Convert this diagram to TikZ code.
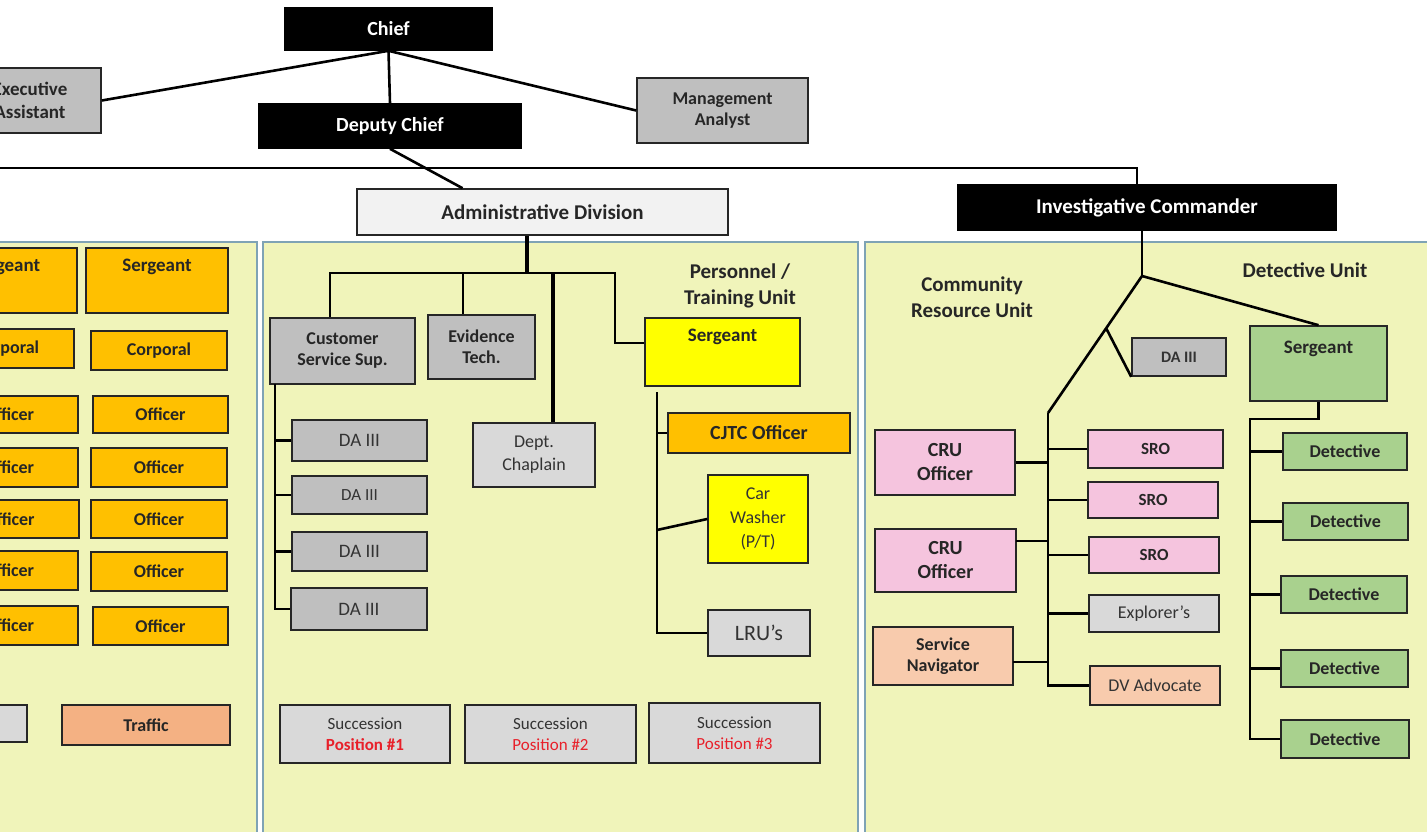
\documentclass[tikz,border=0pt]{standalone}
\usepackage{fontspec}
\setmainfont{Carlito}
\definecolor{panelfill}{HTML}{F0F4BA}
\definecolor{panelline}{HTML}{7FA3B5}
\definecolor{orng}{HTML}{FFC000}
\definecolor{gry}{HTML}{BFBFBF}
\definecolor{lgry}{HTML}{D9D9D9}
\definecolor{xlgry}{HTML}{F2F2F2}
\definecolor{pnk}{HTML}{F5C4DE}
\definecolor{peach}{HTML}{F8CBAD}
\definecolor{salmon}{HTML}{F4B183}
\definecolor{grn}{HTML}{A9D18E}
\definecolor{ylw}{HTML}{FFFF00}
\definecolor{redtxt}{HTML}{E8202A}
\definecolor{ink}{HTML}{262626}
\newcommand{\mkbox}[8][]{\node[#2,minimum width={(#5-#3)*1pt},minimum height={(#6-#4)*1pt},#1] (#7) at ({(#3+#5)/2},{(#4+#6)/2}) {#8};}
\tikzset{
  box/.style={draw=ink, line width=1.6pt, inner sep=0pt, align=center, text=ink,
    font=\bfseries\fontsize{18}{21}\selectfont},
  blk/.style={box, draw=black, fill=black, text=white, font=\bfseries\fontsize{20}{22}\selectfont},
  gbox/.style={box, fill=gry},
  lbox/.style={box, fill=lgry, font=\fontsize{19}{22}\selectfont, text=black!80},
  dabox/.style={box, fill=gry, font=\fontsize{19}{22}\selectfont, text=black!80},
  obox/.style={box, fill=orng},
  pbox/.style={box, fill=pnk},
  pchbox/.style={box, fill=peach},
  gnbox/.style={box, fill=grn},
  ybox/.style={box, fill=ylw},
  panel/.style={draw=panelline, line width=1.5pt, fill=panelfill},
  conn/.style={line width=2.6pt, black},
  thk/.style={line width=4.2pt, black},
  hdr/.style={font=\bfseries\fontsize{21}{26}\selectfont, text=ink, align=center, inner sep=0pt},
  toplab/.style={anchor=north, yshift=-12pt, inner sep=0pt, text=ink, font=\bfseries\fontsize{19}{21}\selectfont}
}
\begin{document}
\begin{tikzpicture}[x=1pt,y=-1pt]
\useasboundingbox (0,0) rectangle (1427,832);
\clip (0,0) rectangle (1427,832);
\fill[white] (0,0) rectangle (1427,832);

% panels
\draw[panel] (-10,242) rectangle (257,845);
\draw[panel] (263,242) rectangle (858,845);
\draw[panel] (865,242) rectangle (1440,845);

% top level
\mkbox{blk}{285}{8}{492}{50}{chief}{Chief}
\mkbox[font=\bfseries\fontsize{19}{23}\selectfont]{gbox}{-40}{68}{101}{133}{exec}{}
\node[font=\bfseries\fontsize{19}{23}\selectfont, text=ink, align=center] (exect) at (30,100) {Executive\\Assistant};
\mkbox{gbox}{637}{78}{808}{143}{mgmt}{Management\\Analyst}
\mkbox{blk}{259}{104}{521}{148}{deputy}{Deputy Chief}
\mkbox[fill=xlgry, font=\bfseries\fontsize{21}{24}\selectfont]{box}{357}{189}{728}{235}{admin}{Administrative Division}
\mkbox[font=\bfseries\fontsize{21}{24}\selectfont]{blk}{958}{185}{1336}{230}{inv}{Investigative Commander}

\draw[conn] (chief.south) -- (exec.east);
\draw[conn] (chief.south) -- (deputy.north);
\draw[conn] (chief.south) -- (mgmt.west);
\coordinate (hl) at (-5,168);
\draw[conn] (hl) -| ([xshift=-10pt]inv.north);
\draw[conn] (deputy.south) -- ([xshift=-80pt]admin.north);

% left panel
\mkbox[label={[toplab]north:Sergeant}]{obox}{-66}{248}{77}{313}{ls1}{}
\mkbox[label={[toplab]north:Sergeant}]{obox}{86}{248}{228}{313}{ls2}{}
\mkbox{obox}{-60}{329}{74}{368}{lc1}{Corporal}
\mkbox{obox}{91}{331}{227}{370}{lc2}{Corporal}
\mkbox{obox}{-60}{396}{78}{433}{lo1}{Officer}
\mkbox{obox}{93}{396}{228}{433}{ro1}{Officer}
\mkbox{obox}{-60}{448}{78}{487}{lo2}{Officer}
\mkbox{obox}{91}{448}{227}{487}{ro2}{Officer}
\mkbox{obox}{-60}{500}{79}{538}{lo3}{Officer}
\mkbox{obox}{91}{500}{227}{538}{ro3}{Officer}
\mkbox{obox}{-60}{551}{78}{590}{lo4}{Officer}
\mkbox{obox}{91}{552}{227}{591}{ro4}{Officer}
\mkbox{obox}{-60}{606}{78}{645}{lo5}{Officer}
\mkbox{obox}{93}{607}{228}{645}{ro5}{Officer}
\mkbox[fill=lgry]{box}{-60}{705}{27}{742}{lg}{}
\mkbox[fill=salmon]{box}{62}{705}{230}{745}{traffic}{Traffic}

% middle panel
\mkbox{gbox}{270}{318}{415}{384}{css}{Customer\\Service Sup.}
\mkbox{gbox}{428}{315}{535}{379}{evid}{Evidence\\Tech.}
\mkbox[font=\fontsize{18}{23}\selectfont]{lbox}{473}{423}{595}{487}{chap}{Dept.\\Chaplain}
\mkbox{dabox}{292}{420}{427}{461}{da1}{DA III}
\mkbox[font=\fontsize{17}{20}\selectfont]{dabox}{292}{476}{427}{514}{da2}{DA III}
\mkbox{dabox}{292}{532}{427}{571}{da3}{DA III}
\mkbox{dabox}{291}{588}{427}{630}{da4}{DA III}
\node[hdr] (ptu) at (740,286) {Personnel /\\Training Unit};
\mkbox[label={[toplab]north:Sergeant}]{ybox}{645}{318}{800}{386}{psg}{}
\mkbox[font=\bfseries\fontsize{20}{22}\selectfont]{obox}{668}{413}{850}{453}{cjtc}{CJTC Officer}
\mkbox[font=\fontsize{18}{24}\selectfont, text=black!80]{ybox}{708}{475}{808}{563}{cw}{Car\\Washer\\(P/T)}
\mkbox[font=\fontsize{22}{24}\selectfont]{lbox}{708}{610}{810}{656}{lru}{LRU’s}
\mkbox[font=\fontsize{17}{21}\selectfont]{lbox}{280}{705}{450}{763}{suc1}{Succession\\\textcolor{redtxt}{\bfseries Position \#1}}
\mkbox[font=\fontsize{17}{21}\selectfont]{lbox}{465}{705}{636}{763}{suc2}{Succession\\\textcolor{redtxt}{Position \#2}}
\mkbox[font=\fontsize{17}{21}\selectfont]{lbox}{649}{703}{820}{763}{suc3}{Succession\\\textcolor{redtxt}{Position \#3}}

\coordinate (mj) at (527,273);
\coordinate (bl) at (330,273);
\coordinate (ev) at (463,273);
\coordinate (ch) at (553,273);
\coordinate (pr) at (615,273);
\coordinate (pk) at (615,343);
\draw[thk] (mj |- admin.south) -- (mj);
\draw[conn] (bl |- css.north) -- (bl) -- (pr) -- (pk) -- (pk -| psg.west);
\draw[conn] (ev) -- (ev |- evid.north);
\draw[thk] (ch) -- (ch |- chap.north);
\coordinate (ct1) at (275,384);
\draw[conn] (ct1) -- (ct1 |- da4.west) -- (da4.west);
\draw[conn] (ct1 |- da1.west) -- (da1.west);
\draw[conn] (ct1 |- da2.west) -- (da2.west);
\draw[conn] (ct1 |- da3.west) -- (da3.west);
\coordinate (pt) at (657,392);
\draw[conn] (pt) -- (pt |- lru.west) -- (lru.west);
\draw[conn] (pt |- cjtc.west) -- (cjtc.west);
\coordinate (cwb) at (657,530);
\draw[conn] (cwb) -- (cw.west);

% right panel
\node[hdr] (cru) at (972,297) {Community\\Resource Unit};
\node[hdr] (detu) at (1305,270) {Detective Unit};
\mkbox[font=\bfseries\fontsize{16}{20}\selectfont]{dabox}{1132}{338}{1226}{376}{da5}{DA III}
\mkbox[font=\bfseries\fontsize{20}{24}\selectfont]{pbox}{875}{430}{1015}{495}{cru1}{CRU\\Officer}
\mkbox[font=\bfseries\fontsize{20}{24}\selectfont]{pbox}{875}{529}{1016}{592}{cru2}{CRU\\Officer}
\mkbox{pchbox}{873}{627}{1013}{685}{sn}{Service\\Navigator}
\mkbox[font=\bfseries\fontsize{17}{20}\selectfont]{pbox}{1088}{430}{1223}{468}{sro1}{SRO}
\mkbox[font=\bfseries\fontsize{17}{20}\selectfont]{pbox}{1088}{482}{1218}{518}{sro2}{SRO}
\mkbox[font=\bfseries\fontsize{17}{20}\selectfont]{pbox}{1089}{537}{1219}{573}{sro3}{SRO}
\mkbox[font=\fontsize{18}{20}\selectfont]{lbox}{1089}{595}{1219}{632}{expl}{Explorer’s}
\mkbox[fill=peach, font=\fontsize{18}{20}\selectfont, text=black!80]{box}{1090}{666}{1220}{705}{dv}{DV Advocate}
\mkbox[label={[toplab, yshift=-4pt]north:Sergeant}]{gnbox}{1250}{326}{1387}{401}{dsg}{}
\mkbox{gnbox}{1283}{433}{1407}{470}{det1}{Detective}
\mkbox{gnbox}{1283}{503}{1408}{540}{det2}{Detective}
\mkbox{gnbox}{1281}{576}{1407}{613}{det3}{Detective}
\mkbox{gnbox}{1281}{650}{1408}{687}{det4}{Detective}
\mkbox{gnbox}{1281}{720}{1409}{758}{det5}{Detective}

\coordinate (ij) at (1142,276);
\coordinate (ct) at (1048,413);
\coordinate (cb) at (1106,328);
\coordinate (c2) at (1016,541);
\coordinate (c3) at (1013,662);
\draw[conn] (ij |- inv.south) -- (ij);
\draw[conn] (ij) -- (dsg.north);
\draw[conn] (ij) -- (ct);
\draw[conn] (cb) -- (da5.south west);
\draw[conn] (ct) -- (ct |- dv.west) -- (dv.west);
\draw[conn] (cru1.east) -- (cru1.east -| ct);
\draw[conn] (c2) -- (c2 -| ct);
\draw[conn] (c3) -- (c3 -| ct);
\draw[conn] (ct |- sro1.west) -- (sro1.west);
\draw[conn] (ct |- sro2.west) -- (sro2.west);
\draw[conn] (ct |- sro3.west) -- (sro3.west);
\draw[conn] (ct |- expl.west) -- (expl.west);
\coordinate (dt) at (1250,419);
\draw[conn] (dsg.south) -- (dsg.south |- dt) -- (dt) -- (dt |- det5.west) -- (det5.west);
\draw[conn] (dt |- det1.west) -- (det1.west);
\draw[conn] (dt |- det2.west) -- (det2.west);
\draw[conn] (dt |- det3.west) -- (det3.west);
\draw[conn] (dt |- det4.west) -- (det4.west);
\end{tikzpicture}
\end{document}
